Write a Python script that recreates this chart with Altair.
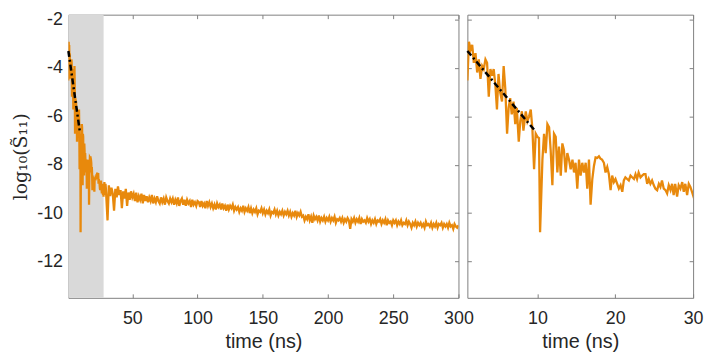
import altair as alt
import pandas as pd

# ---- data ----
fine_t = [1.0, 1.2, 1.41, 1.62, 1.83, 2.04, 2.26, 2.47, 2.68, 2.9,
          3.1, 3.32, 3.53, 3.75, 3.96, 4.17, 4.38, 4.6, 4.8, 5.0,
          5.2, 5.45, 5.66, 5.87, 6.1, 6.3, 6.5, 6.7, 6.93, 7.15,
          7.35, 7.6, 7.8, 8.0, 8.2, 8.5, 8.71, 8.93, 9.14, 9.35,
          9.57, 9.78, 10.0, 10.2, 10.34, 10.64, 10.85, 11.06, 11.28, 11.5,
          11.7, 11.92, 12.13, 12.35, 12.56, 12.77, 13.0, 13.2, 13.4, 13.63,
          13.84, 14.06, 14.27, 14.5, 14.7, 14.9, 15.12, 15.34, 15.55, 15.76,
          15.98, 16.2, 16.4, 16.62, 16.83, 17.05, 17.26, 17.47, 17.68, 17.9,
          18.1, 18.3, 18.54, 18.75, 18.97, 19.18, 19.4, 19.6, 19.82, 20.03,
          20.25, 20.46, 20.68, 20.9, 21.1, 21.3, 21.53, 21.74, 21.96, 22.17,
          22.4, 22.6, 22.8, 23.0, 23.24, 23.45, 23.67, 23.88, 24.1, 24.3,
          24.52, 24.73, 24.95, 25.16, 25.38, 25.6, 25.8, 26.0, 26.23, 26.45,
          26.66, 26.87, 27.1, 27.3, 27.5, 27.7, 27.94, 28.15, 28.37, 28.6,
          28.8, 29.0, 29.23, 29.44, 29.65, 29.86]
fine_v = [-4.52, -2.92, -3.25, -3.05, -3.79, -3.39, -4.19, -3.65, -4.45, -3.92,
          -4.05, -3.65, -3.79, -5.19, -4.05, -4.32, -4.05, -4.72, -5.72, -4.25,
          -4.99, -5.39, -3.92, -4.85, -6.72, -5.65, -5.25, -5.92, -5.39, -6.32,
          -5.65, -7.05, -6.19, -5.79, -6.59, -5.8, -6.2, -6.0, -5.72, -6.5,
          -8.19, -6.72, -6.85, -6.9, -10.79, -7.79, -6.72, -7.52, -6.32, -6.45,
          -7.39, -8.85, -6.72, -6.85, -8.32, -7.25, -8.45, -7.12, -7.39, -8.32,
          -7.52, -7.79, -8.19, -7.79, -8.32, -7.92, -8.99, -7.79, -8.45, -7.92,
          -8.32, -7.92, -8.99, -7.79, -9.65, -8.59, -8.05, -7.7, -7.72, -7.65,
          -7.75, -7.79, -7.92, -8.32, -8.1, -8.39, -9.05, -8.45, -8.72, -8.59,
          -8.79, -8.99, -8.85, -9.12, -8.65, -8.52, -8.59, -8.65, -8.45, -8.52,
          -8.59, -8.39, -8.59, -8.32, -8.52, -8.45, -8.39, -8.39, -8.79, -8.59,
          -8.79, -8.65, -8.85, -8.99, -9.05, -8.79, -8.92, -8.65, -8.99, -9.05,
          -9.19, -8.85, -9.05, -8.79, -9.25, -8.79, -9.32, -8.85, -8.99, -8.72,
          -9.12, -8.79, -9.25, -8.79, -8.92, -9.12]

coarse_t = list(range(31, 301))
coarse_v = [
    -10.3, -8.85, -9.3, -8.95, -9.2, -9.9, -9.0, -9.35, -8.9, -9.25,
    -9.05, -9.8, -9.1, -9.4, -9.0, -9.7, -9.15, -9.45, -9.1, -9.35,
    -9.2, -9.5, -9.15, -9.55, -9.3, -9.45, -9.2, -9.6, -9.25, -9.5,
    -9.3, -9.55, -9.35, -9.5, -9.25, -9.6, -9.4, -9.55, -9.3, -9.5,
    -9.6, -9.35, -9.55, -9.4, -9.65, -9.35, -9.5, -9.6, -9.4, -9.55,
    -9.4, -9.65, -9.45, -9.6, -9.35, -9.7, -9.5, -9.4, -9.65, -9.45,
    -9.7, -9.45, -9.6, -9.5, -9.75, -9.45, -9.65, -9.55, -9.7, -9.5,
    -9.55, -9.75, -9.5, -9.7, -9.6, -9.8, -9.5, -9.7, -9.55, -9.75,
    -9.6, -9.8, -9.65, -9.85, -9.6, -9.75, -9.65, -9.85, -9.6, -9.8,
    -9.7, -9.9, -9.65, -9.85, -9.7, -9.8, -9.65, -9.9, -9.75, -9.85,
    -9.75, -9.95, -9.8, -9.9, -9.7, -9.95, -9.8, -9.9, -9.75, -10.0,
    -9.8, -10.0, -9.85, -9.95, -9.8, -10.05, -9.9, -9.95, -9.8, -10.0,
    -9.85, -10.05, -9.9, -10.0, -9.85, -10.1, -9.95, -10.0, -9.85, -10.05,
    -9.9, -10.1, -9.95, -10.05, -9.9, -10.1, -9.95, -10.05, -9.9, -10.1,
    -9.95, -10.15, -10.0, -10.1, -9.9, -10.15, -10.0, -10.1, -9.95, -10.15,
    -10.1, -10.3, -10.15, -10.25, -10.05, -10.3, -10.15, -10.4, -10.1, -10.25,
    -10.15, -10.3, -10.1, -10.35, -10.2, -10.3, -10.15, -10.35, -10.2, -10.3,
    -10.15, -10.35, -10.2, -10.3, -10.15, -10.4, -10.25, -10.3, -10.2, -10.35,
    -10.2, -10.4, -10.25, -10.35, -10.2, -10.3, -10.65, -10.25, -10.35, -10.2,
    -10.4, -10.25, -10.35, -10.2, -10.45, -10.25, -10.35, -10.3, -10.4, -10.2,
    -10.35, -10.25, -10.45, -10.3, -10.4, -10.25, -10.45, -10.3, -10.35, -10.25,
    -10.45, -10.3, -10.4, -10.25, -10.5, -10.3, -10.4, -10.35, -10.5, -10.3,
    -10.4, -10.3, -10.5, -10.35, -10.45, -10.3, -10.5, -10.4, -10.45, -10.3,
    -10.5, -10.35, -10.45, -10.6, -10.4, -10.5, -10.35, -10.55, -10.4, -10.5,
    -10.4, -10.55, -10.45, -10.6, -10.35, -10.5, -10.45, -10.55, -10.4, -10.6,
    -10.45, -10.55, -10.4, -10.6, -10.45, -10.5, -10.4, -10.6, -10.45, -10.55,
    -10.45, -10.6, -10.4, -10.55, -10.5, -10.65, -10.45, -10.55, -10.6, -10.5,
]

fit_t = [1.0, 9.7]
fit_v = [-3.3, -6.6]
shade_t = [1, 28]

y_limits = [-13.5, -1.8]
y_ticks = [-12, -10, -8, -6, -4, -2]
left_xlim = [1, 300]
left_xticks = [50, 100, 150, 200, 250, 300]
right_xlim = [1, 30]
right_xticks = [10, 20, 30]

series = pd.DataFrame({"t": fine_t + coarse_t, "v": fine_v + coarse_v})
fit = pd.DataFrame({"t": fit_t, "v": fit_v})
shade = pd.DataFrame({"t0": [shade_t[0]], "t1": [shade_t[1]],
                      "y0": [y_limits[0]], "y1": [y_limits[1]]})

ORANGE = "#E8890C"
FONT = "Liberation Sans"
TXT = "#262626"
AX = "#808080"
TICK = 4
YTITLE = "log\u2081\u2080(S\u0303\u2081\u2081)"


def xaxis(vals, main):
    if main:
        return alt.Axis(orient="bottom", values=vals, offset=-TICK, tickSize=TICK,
                        domain=False, grid=False, tickColor=AX, labelFlush=False,
                        labelFont=FONT, labelFontSize=18, labelColor=TXT, labelPadding=12,
                        labelExpr="toString(datum.value)",
                        title="time (ns)", titleFont=FONT, titleFontSize=20,
                        titleFontWeight="normal", titleColor=TXT, titlePadding=4)
    return alt.Axis(orient="top", values=vals, offset=-TICK, tickSize=TICK,
                    domain=False, grid=False, tickColor=AX, labels=False, title=None)


def yaxis(main, labels):
    if main and labels:
        return alt.Axis(orient="left", values=y_ticks, offset=-TICK, tickSize=TICK,
                        domain=False, grid=False, tickColor=AX,
                        labelFont=FONT, labelFontSize=18, labelColor=TXT, labelPadding=6,
                        labelExpr="toString(datum.value)",
                        title=YTITLE, titleFont="DejaVu Serif", titleFontSize=19,
                        titleFontWeight="normal", titleColor=TXT, titlePadding=6)
    return alt.Axis(orient="left" if main else "right", values=y_ticks, offset=-TICK,
                    tickSize=TICK, domain=False, grid=False, tickColor=AX,
                    labels=False, title=None)


def panel(xlim, xticks, width, with_labels, with_shade):
    xs = alt.Scale(domain=xlim, nice=False, zero=False)
    ys = alt.Scale(domain=y_limits, nice=False, zero=False)
    layers = []
    if with_shade:
        layers.append(alt.Chart(shade).mark_rect(color="#D9D9D9").encode(
            x=alt.X("t0:Q", scale=xs, axis=None), x2="t1:Q",
            y=alt.Y("y0:Q", scale=ys, axis=None), y2="y1:Q"))
    layers.append(alt.Chart(series).mark_line(color=ORANGE, strokeWidth=2.3, clip=True).encode(
        x=alt.X("t:Q", scale=xs, axis=xaxis(xticks, True)),
        y=alt.Y("v:Q", scale=ys, axis=yaxis(True, with_labels)),
        order="t:Q"))
    layers.append(alt.Chart(fit).mark_line(color="black", strokeWidth=2.5,
                                           strokeDash=[6, 3, 2, 3]).encode(
        x=alt.X("t:Q", scale=xs, axis=xaxis(xticks, False)),
        y=alt.Y("v:Q", scale=ys, axis=yaxis(False, False))))
    return alt.layer(*layers).resolve_axis(x="independent", y="independent").properties(
        width=width, height=286)


left = panel(left_xlim, left_xticks, 394, True, True)
right = panel(right_xlim, right_xticks, 228, False, False)

chart = alt.hconcat(left, right, spacing=9, bounds="flush").properties(
    padding={"top": 0, "left": 3, "right": 0, "bottom": 0}
).configure_view(stroke=AX, strokeWidth=1)

chart.save("out.html", embed_options={"renderer": "svg", "actions": False})
